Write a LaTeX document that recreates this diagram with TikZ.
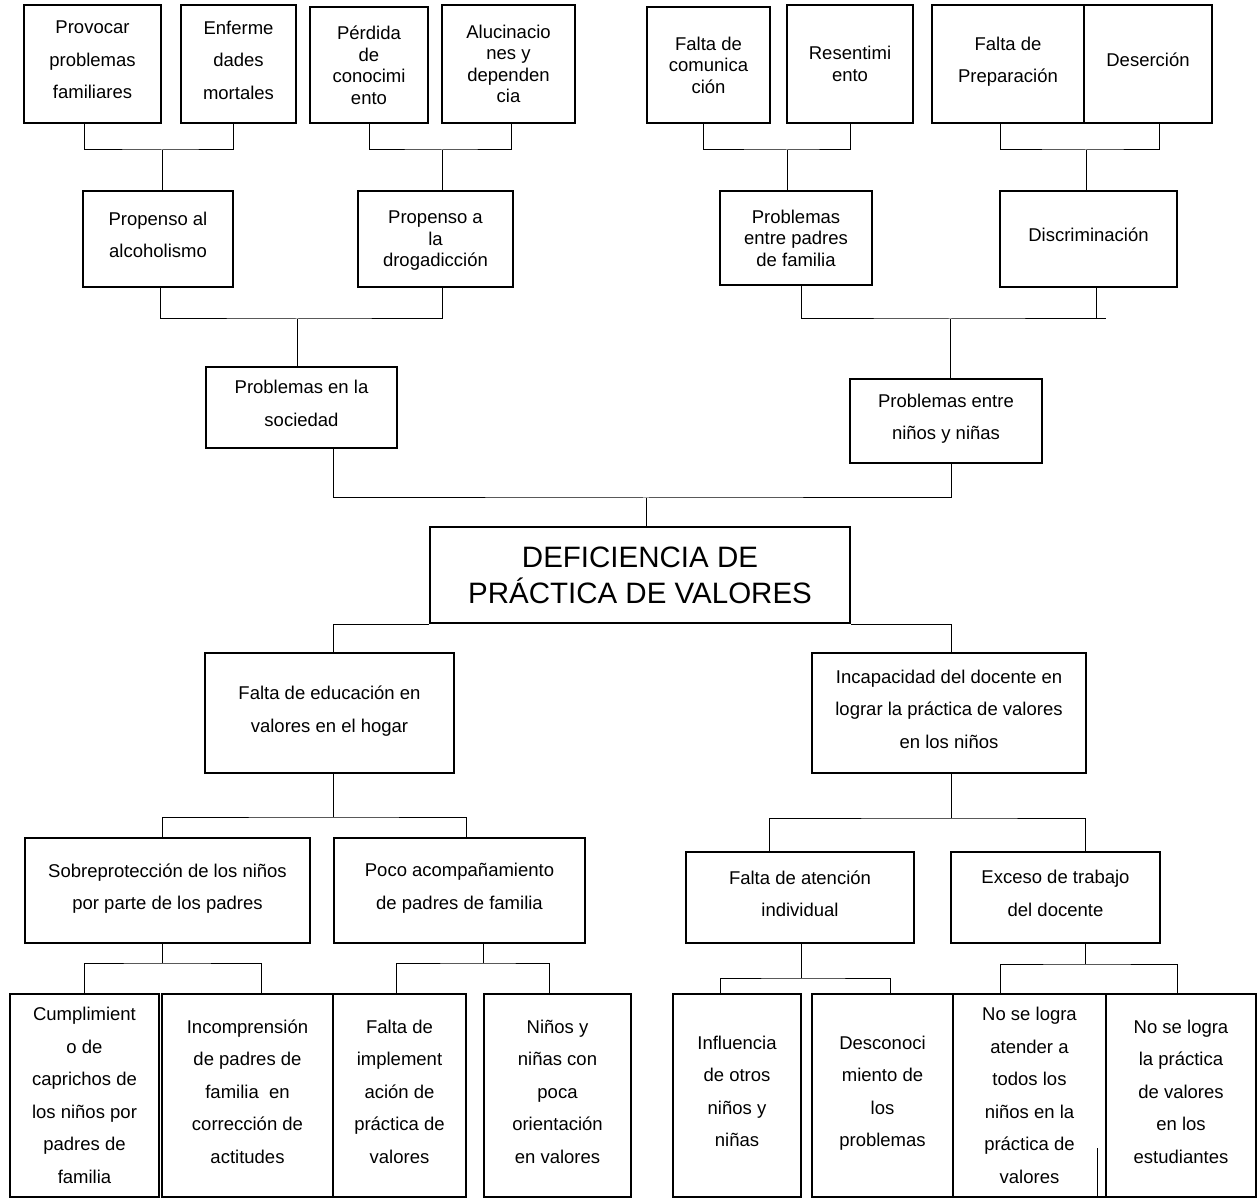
\documentclass[tikz,border=0pt]{standalone}
\usepackage{fontspec}
\setmainfont{Liberation Sans}
\usetikzlibrary{positioning,calc}

\begin{document}
\begin{tikzpicture}[x=0.5pt, y=-0.5pt,
  box/.style={draw, line width=1.1pt, inner sep=0pt, align=center, text depth=4pt,
    font=\fontsize{9.25pt}{16.25pt}\selectfont},
  tight/.style={text depth=0pt, font=\fontsize{9.25pt}{10.75pt}\selectfont},
  titlebox/.style={box, text depth=0pt, font=\fontsize{14.75pt}{18pt}\selectfont},
  link/.style={line width=0.5pt}]
\useasboundingbox (0,0) rectangle (1260,1198);

% Top row
\node[box, minimum width=68.5pt, minimum height=59pt] (prov) at (92.5,64) {Provocar\\problemas\\familiares};
\node[box, minimum width=57.5pt, minimum height=59pt] (enf) at (238.5,64) {Enferme\\dades\\mortales};
\node[box, tight, minimum width=59pt, minimum height=58pt] (perd) at (369,65) {Pérdida\\de\\conocimi\\ento};
\node[box, tight, minimum width=66.5pt, minimum height=59pt] (aluc) at (508.5,64) {Alucinacio\\nes y\\dependen\\cia};
\node[box, tight, minimum width=61.5pt, minimum height=58pt] (com) at (708.5,65) {Falta de\\comunica\\ción};
\node[box, tight, minimum width=63pt, minimum height=59pt] (res) at (850,64) {Resentimi\\ento};
\node[box, minimum width=76pt, minimum height=59pt] (prep) at (1008,64) {Falta de\\Preparación};
\node[box, minimum width=64pt, minimum height=59pt] (des) at (1148,64) {Deserción};

% Second row
\node[box, minimum width=75pt, minimum height=48pt] (alc) at (158,239) {Propenso al\\alcoholismo};
\node[box, tight, minimum width=77.5pt, minimum height=48pt] (drog) at (435.5,239) {Propenso a\\la\\drogadicción};
\node[box, tight, minimum width=76pt, minimum height=47pt] (padres) at (796,238) {Problemas\\entre padres\\de familia};
\node[box, minimum width=88.5pt, minimum height=48pt] (disc) at (1088.5,239) {Discriminación};

% Third row
\node[box, minimum width=95.5pt, minimum height=40.5pt] (soc) at (301.5,407.5) {Problemas en la\\sociedad};
\node[box, minimum width=96pt, minimum height=42pt] (ninos) at (946,421) {Problemas entre\\niños y niñas};

% Central problem
\node[titlebox, minimum width=210pt, minimum height=48pt] (main) at (640,575) {DEFICIENCIA DE\\PRÁCTICA DE VALORES};

% Causes
\node[box, minimum width=124.5pt, minimum height=60pt] (edu) at (329.5,713) {Falta de educación en\\valores en el hogar};
\node[box, minimum width=137pt, minimum height=60pt] (inc) at (949,713) {Incapacidad del docente en\\lograr la práctica de valores\\en los niños};

\node[box, minimum width=142.5pt, minimum height=52.5pt] (sob) at (167.5,890.5) {Sobreprotección de los niños\\por parte de los padres};
\node[box, minimum width=125.5pt, minimum height=52.5pt] (poco) at (459.5,890.5) {Poco acompañamiento\\de padres de familia};
\node[box, minimum width=114pt, minimum height=45.5pt] (fat) at (800,897.5) {Falta de atención\\individual};
\node[box, minimum width=104.5pt, minimum height=45.5pt] (exc) at (1055.5,897.5) {Exceso de trabajo\\del docente};

% Bottom row
\node[box, text depth=0pt, minimum width=74.5pt, minimum height=101.5pt] (cum) at (84.5,1095.5) {Cumplimient\\o de\\caprichos de\\los niños por\\padres de\\familia};
\node[box, minimum width=85.5pt, minimum height=101.5pt] (inco) at (247.5,1095.5) {Incomprensión\\de padres de\\familia\ \ en\\corrección de\\actitudes};
\node[box, minimum width=66.5pt, minimum height=101.5pt] (fimp) at (399.5,1095.5) {Falta de\\implement\\ación de\\práctica de\\valores};
\node[box, minimum width=73.5pt, minimum height=101.5pt] (nin2) at (557.5,1095.5) {Niños y\\niñas con\\poca\\orientación\\en valores};
\node[box, minimum width=64pt, minimum height=101.5pt] (infl) at (737,1095.5) {Influencia\\de otros\\niños y\\niñas};
\node[box, minimum width=70.5pt, minimum height=101.5pt] (desc) at (882.5,1095.5) {Desconoci\\miento de\\los\\problemas};
\node[box, text depth=0pt, minimum width=76.5pt, minimum height=101.5pt] (nola) at (1029.5,1095.5) {No se logra\\atender a\\todos los\\niños en la\\práctica de\\valores};
\node[box, minimum width=75pt, minimum height=101.5pt] (nolb) at (1181,1095.5) {No se logra\\la práctica\\de valores\\en los\\estudiantes};

% Connectors, upper left
\coordinate (jA) at (162,150);
\draw[link] ([xshift=-4.25pt]prov.south) |- (jA) -| ([xshift=-2.75pt]enf.south);
\draw[link] (jA) -- (jA |- alc.north);
\coordinate (jB) at (442,150);
\draw[link] (perd.south) |- (jB) -| ([xshift=1.25pt]aluc.south);
\draw[link] (jB) -- (jB |- drog.north);
\coordinate (jC) at (297,319);
\draw[link] ([xshift=1pt]alc.south) |- (jC) -| ([xshift=3.25pt]drog.south);
\draw[link] (jC) -- (jC |- soc.north);

% Connectors, upper right
\coordinate (jD) at (787,150);
\draw[link] ([xshift=-2.75pt]com.south) |- (jD) -| (res.south);
\draw[link] (jD) -- (jD |- padres.north);
\coordinate (jE) at (1086,150);
\draw[link] ([xshift=-4pt]prep.south) |- (jE) -| ([xshift=5.5pt]des.south);
\draw[link] (jE) -- (jE |- disc.north);
\coordinate (jF) at (950,319);
\draw[link] ([xshift=2.5pt]padres.south) |- (jF) -| ([xshift=3.75pt]disc.south);
\draw[link] (jF -| disc.south) -- ++(17.5,0);
\draw[link] (jF) -- (jF |- ninos.north);

% Into the central problem
\coordinate (jG) at (646,498);
\draw[link] ([xshift=15.75pt]soc.south) |- (jG) -| ([xshift=2.5pt]ninos.south);
\draw[link] (jG) -- (jG |- main.north);

% Out of the central problem
\draw[link] (main.south west) -| ([xshift=1.75pt]edu.north);
\draw[link] (main.south east) -| ([xshift=1pt]inc.north);

\coordinate (jH) at (333,817);
\draw[link] (jH |- edu.south) -- (jH);
\draw[link] ([xshift=-2.75pt]sob.north) |- (jH) -| ([xshift=3.25pt]poco.north);
\coordinate (jI) at (951,818);
\draw[link] (jI |- inc.south) -- (jI);
\draw[link] ([xshift=-15.5pt]fat.north) |- (jI) -| ([xshift=14.75pt]exc.north);

% Lower connectors
\coordinate (jJ) at (162,963);
\draw[link] (jJ |- sob.south) -- (jJ);
\draw[link] (cum.north) |- (jJ) -| ([xshift=6.75pt]inco.north);
\coordinate (jK) at (483,963);
\draw[link] (jK |- poco.south) -- (jK);
\draw[link] ([xshift=-1.75pt]fimp.north) |- (jK) -| ([xshift=-4.25pt]nin2.north);
\coordinate (jL) at (801,978);
\draw[link] (jL |- fat.south) -- (jL);
\draw[link] ([xshift=-8.5pt]infl.north) |- (jL) -| ([xshift=3.75pt]desc.north);
\coordinate (jM) at (1085,964);
\draw[link] (jM |- exc.south) -- (jM);
\draw[link] ([xshift=-14.75pt]nola.north) |- (jM) -| ([xshift=-2pt]nolb.north);

% stray stroke
\draw[link] ([xshift=-5pt]nola.south east) -- ++(0,-50);

\end{tikzpicture}
\end{document}
